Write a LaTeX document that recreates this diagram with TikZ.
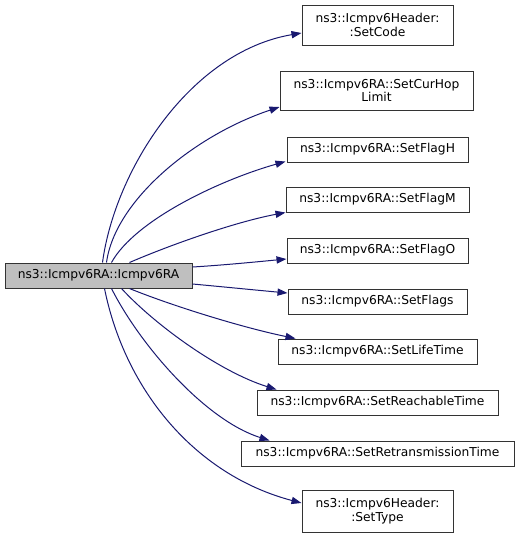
\documentclass[tikz,border=0pt]{standalone}
\usepackage{fontspec}
\setmainfont{DejaVu Sans}
\usetikzlibrary{arrows.meta,calc}
\definecolor{edgeblue}{RGB}{25,25,112}
\definecolor{boxgray}{RGB}{191,191,191}
\begin{document}
\begin{tikzpicture}[x=0.75pt,y=-0.75pt,
  fn/.style={draw=black!80,line width=0.75pt,inner sep=0pt,align=center,
    font=\fontsize{9.2}{10.2}\selectfont},
  call/.style={draw=edgeblue,line width=0.75pt,
    -{Triangle[length=7.5pt,width=5.4pt]}}]
\useasboundingbox (0,0) rectangle (520,537);
\node[fn,fill=boxgray,minimum width=187*0.75pt,minimum height=25*0.75pt] (m) at (98.5,275.5) {ns3::Icmpv6RA::Icmpv6RA};
\node[fn,fill=white,minimum width=151*0.75pt,minimum height=40*0.75pt] (sc) at (377.5,25) {ns3::Icmpv6Header:\\:SetCode};
\node[fn,fill=white,minimum width=193*0.75pt,minimum height=39*0.75pt] (cu) at (376.5,90.5) {ns3::Icmpv6RA::SetCurHop\\Limit};
\node[fn,fill=white,minimum width=181*0.75pt,minimum height=25*0.75pt] (fh) at (377.5,149.5) {ns3::Icmpv6RA::SetFlagH};
\node[fn,fill=white,minimum width=183*0.75pt,minimum height=25*0.75pt] (fm) at (377.5,199.5) {ns3::Icmpv6RA::SetFlagM};
\node[fn,fill=white,minimum width=181*0.75pt,minimum height=25*0.75pt] (fo) at (377.5,250.5) {ns3::Icmpv6RA::SetFlagO};
\node[fn,fill=white,minimum width=179*0.75pt,minimum height=25*0.75pt] (fl) at (377.5,301.5) {ns3::Icmpv6RA::SetFlags};
\node[fn,fill=white,minimum width=199*0.75pt,minimum height=25*0.75pt] (lt) at (377.5,351.5) {ns3::Icmpv6RA::SetLifeTime};
\node[fn,fill=white,minimum width=241*0.75pt,minimum height=25*0.75pt] (rt) at (377.5,402.5) {ns3::Icmpv6RA::SetReachableTime};
\node[fn,fill=white,minimum width=273*0.75pt,minimum height=25*0.75pt] (rx) at (377.5,453.5) {ns3::Icmpv6RA::SetRetransmissionTime};
\node[fn,fill=white,minimum width=151*0.75pt,minimum height=42*0.75pt] (st) at (377.5,511) {ns3::Icmpv6Header:\\:SetType};
% edges
\draw[call] ($(m.north west)+(98,0)$) .. controls (115,170) and (190,52) .. ($(sc.west)+(0,8)$);
\draw[call] ($(m.north west)+(102,0)$) .. controls (115,200) and (195,135) .. ($(cu.west)+(0,16.5)$);
\draw[call] ($(m.north west)+(107,0)$) .. controls (135,220) and (220,180) .. ($(fh.south west)+(-1,-1)$);
\draw[call] ($(m.north west)+(125,0)$) .. controls (170,245) and (235,222) .. ($(fm.south west)+(0,0)$);
\draw[call] ($(m.east)+(0,-8.5)$) .. controls (225,265) and (255,262) .. ($(fo.west)+(0,8.5)$);
\draw[call] ($(m.east)+(0,8.5)$) .. controls (225,287) and (255,290) .. ($(fl.west)+(0,-8.5)$);
\draw[call] ($(m.south west)+(125,0)$) .. controls (170,305) and (240,327) .. ($(lt.north west)+(18,0)$);
\draw[call] ($(m.south west)+(117,0)$) .. controls (155,325) and (220,372) .. ($(rt.north west)+(20,0)$);
\draw[call] ($(m.south west)+(107,0)$) .. controls (140,345) and (205,420) .. ($(rx.north west)+(29,0)$);
\draw[call] ($(m.south west)+(100,0)$) .. controls (125,390) and (195,475) .. ($(st.west)+(0,-8)$);
\end{tikzpicture}
\end{document}
